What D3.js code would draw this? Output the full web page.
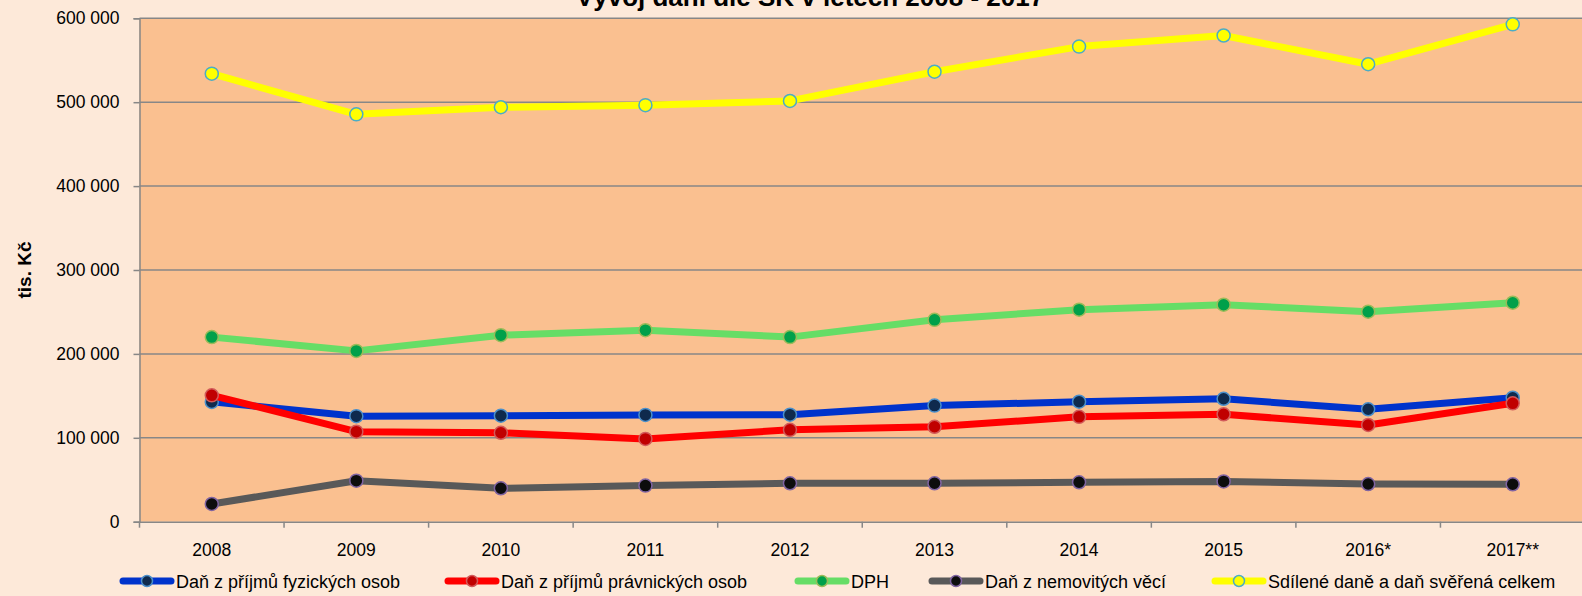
<!DOCTYPE html>
<html>
<head>
<meta charset="utf-8">
<script src="https://cdn.jsdelivr.net/npm/d3@7"></script>
<style>
  html, body { margin: 0; padding: 0; background: #FDE9D9; }
  svg { display: block; }
  text { font-family: "Liberation Sans", Arial, sans-serif; fill: #000; }
</style>
</head>
<body>
<svg id="chart" width="1582" height="596"></svg>
<script>
// ---- data (tis. Kč) ----
const years = ["2008", "2009", "2010", "2011", "2012", "2013", "2014", "2015", "2016*", "2017**"];
const fyzickeOsoby   = [142800, 125800, 126300, 127300, 127500, 138400, 143000, 146500, 134000, 147800];
const pravnickeOsoby = [150600, 107300, 106000,  98700, 109500, 113100, 125000, 128000, 115300, 141100];
const dph            = [220000, 203600, 222300, 228300, 220000, 240600, 252700, 258600, 250300, 261000];
const nemovitosti    = [ 21100,  48900,  39800,  43000,  45800,  45800,  47000,  48000,  44900,  44600];
const sdilene        = [534000, 485500, 494000, 496500, 501500, 536300, 566300, 579500, 545300, 592800];
const yTicks = [0, 100000, 200000, 300000, 400000, 500000, 600000];
const seriesNames = ["Daň z příjmů fyzických osob", "Daň z příjmů právnických osob", "DPH", "Daň z nemovitých věcí", "Sdílené daně a daň svěřená celkem"];
const chartTitle = "Vývoj daní dle SK v letech 2008 - 2017";
const yTitle = "tis. Kč";

const series = [
  { name: seriesNames[0], values: fyzickeOsoby,   line: "#0033CC", fill: "#0F2A4D", stroke: "#4A8FCB" },
  { name: seriesNames[1], values: pravnickeOsoby, line: "#FF0000", fill: "#C00000", stroke: "#D25A5A" },
  { name: seriesNames[2], values: dph,            line: "#66DD66", fill: "#00A04A", stroke: "#9BBB59" },
  { name: seriesNames[3], values: nemovitosti,    line: "#595959", fill: "#0D0D0D", stroke: "#8064A2" },
  { name: seriesNames[4], values: sdilene,        line: "#FFFF00", fill: "#FFFF00", stroke: "#4BACC6" }
];

// ---- layout ----
const svg = d3.select("#chart");
const pLeft = 139.5, pRight = 1585, pTop = 18.3, pBottom = 521.7;

const x = d3.scaleBand().domain(years).range([pLeft, pRight]).paddingInner(0).paddingOuter(0);
const y = d3.scaleLinear().domain([0, 600000]).range([pBottom, pTop]);

// plot background
svg.append("rect").attr("x", pLeft).attr("y", pTop)
  .attr("width", pRight - pLeft).attr("height", pBottom - pTop).attr("fill", "#FAC090");

// gridlines
svg.append("g").selectAll("line").data(yTicks.filter(d => d > 0)).join("line")
  .attr("x1", pLeft).attr("x2", pRight)
  .attr("y1", d => y(d)).attr("y2", d => y(d))
  .attr("stroke", "#878787").attr("stroke-width", 1.5);

// y axis
const fmt = v => d3.format(",")(v).replace(/,/g, " ");
const yAxis = svg.append("g").attr("transform", `translate(${pLeft},0)`)
  .call(d3.axisLeft(y).tickValues(yTicks).tickFormat(fmt).tickSize(6).tickPadding(14));
yAxis.select(".domain").attr("stroke", "#878787").attr("stroke-width", 1.5);
yAxis.selectAll(".tick line").attr("stroke", "#878787").attr("stroke-width", 1.5);
yAxis.selectAll(".tick text").attr("font-size", 17.5).attr("font-family", "Liberation Sans, Arial, sans-serif").attr("fill", "#000");

// x axis
const xAxis = svg.append("g").attr("transform", `translate(0,${pBottom})`)
  .call(d3.axisBottom(x).tickSize(0).tickPadding(22));
xAxis.select(".domain").attr("stroke", "#878787").attr("stroke-width", 1.5);
xAxis.selectAll(".tick text").attr("font-size", 17.5).attr("font-family", "Liberation Sans, Arial, sans-serif").attr("fill", "#000");
// category separator ticks
svg.append("g").selectAll("line").data(years).join("line")
  .attr("x1", d => x(d)).attr("x2", d => x(d))
  .attr("y1", pBottom).attr("y2", pBottom + 6)
  .attr("stroke", "#878787").attr("stroke-width", 1.5);

// series
const cx = d => x(d) + x.bandwidth() / 2;
const line = d3.line().x(d => cx(d.year)).y(d => y(d.value));
series.forEach(s => {
  const pts = years.map((yr, i) => ({ year: yr, value: s.values[i] }));
  const g = svg.append("g");
  g.append("path").datum(pts).attr("d", line)
    .attr("fill", "none").attr("stroke", s.line).attr("stroke-width", 7)
    .attr("stroke-linejoin", "round").attr("stroke-linecap", "round");
  g.selectAll("circle").data(pts).join("circle")
    .attr("cx", d => cx(d.year)).attr("cy", d => y(d.value)).attr("r", 6.5)
    .attr("fill", s.fill).attr("stroke", s.stroke).attr("stroke-width", 1.5);
});

// title (partly above the top edge, as in the reference)
svg.append("text").attr("x", 810).attr("y", 6).attr("text-anchor", "middle")
  .attr("font-size", 26).attr("font-weight", "bold").text(chartTitle);

// y title
svg.append("text").attr("transform", "translate(31,270) rotate(-90)")
  .attr("text-anchor", "middle").attr("font-size", 19).attr("font-weight", "bold").text(yTitle);

// legend
const legendX = [120, 445, 795, 929, 1212];
const legY = 581;
series.forEach((s, i) => {
  const g = svg.append("g").attr("transform", `translate(${legendX[i]},${legY})`);
  g.append("line").attr("x1", 3).attr("x2", 51).attr("y1", 0).attr("y2", 0)
    .attr("stroke", s.line).attr("stroke-width", 7).attr("stroke-linecap", "round");
  g.append("circle").attr("cx", 27).attr("cy", 0).attr("r", 5.5)
    .attr("fill", s.fill).attr("stroke", s.stroke).attr("stroke-width", 1.5);
  g.append("text").attr("x", 56).attr("y", 6.5).attr("font-size", 18).text(s.name);
});
</script>
</body>
</html>
